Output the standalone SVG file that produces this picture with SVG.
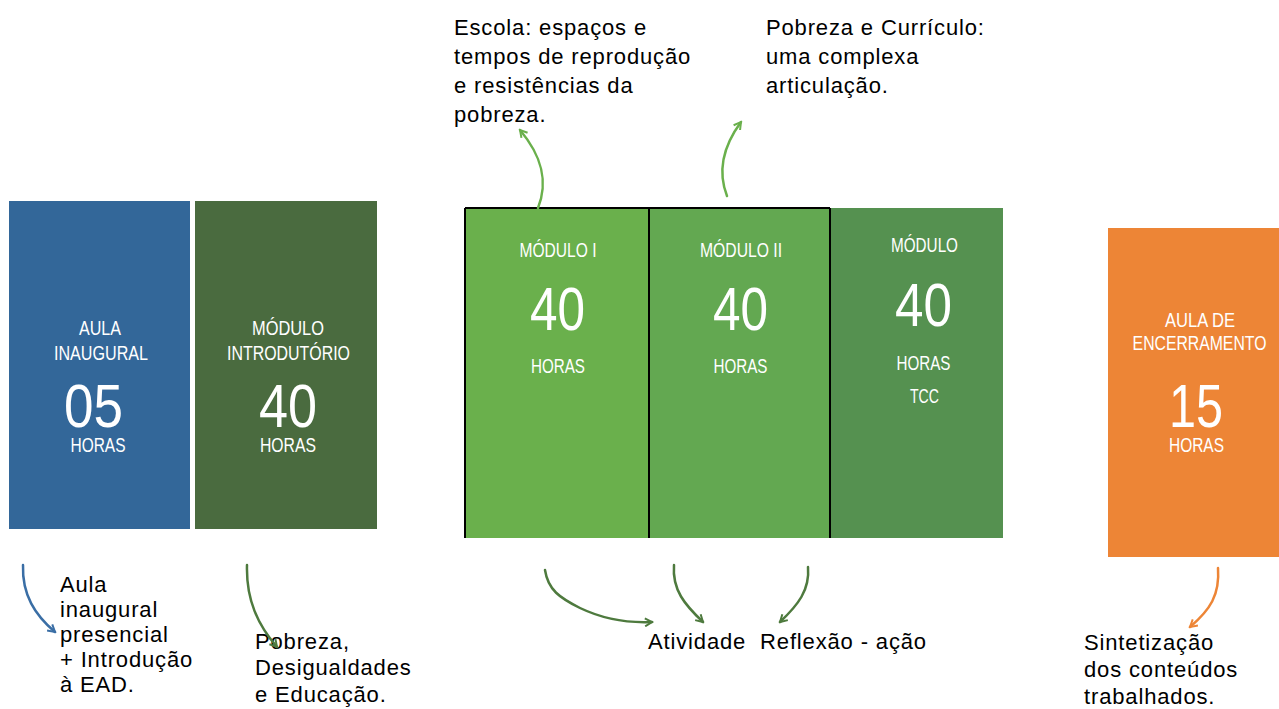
<svg xmlns="http://www.w3.org/2000/svg" width="1279" height="709" viewBox="0 0 1279 709">
<style>
.t{font-family:"Liberation Sans",Arial,sans-serif;fill:#fff;text-anchor:middle}
.s{font-size:20.5px}
.h{font-size:20px}
.n{font-size:62px}
.b{font-family:"Liberation Sans",Arial,sans-serif;fill:#000;font-size:22px;letter-spacing:0.85px}
.c{fill:none;stroke-width:2.5;stroke-linecap:round}
</style>
<defs>
<marker id="ab" markerWidth="10" markerHeight="10" refX="8" refY="5" orient="auto" markerUnits="userSpaceOnUse"><path d="M1,1 L8,5 L1,9" fill="none" stroke="#3A6EA5" stroke-width="2"/></marker>
<marker id="ag" markerWidth="10" markerHeight="10" refX="8" refY="5" orient="auto" markerUnits="userSpaceOnUse"><path d="M1,1 L8,5 L1,9" fill="none" stroke="#4E7A3E" stroke-width="2"/></marker>
<marker id="al" markerWidth="10" markerHeight="10" refX="8" refY="5" orient="auto" markerUnits="userSpaceOnUse"><path d="M1,1 L8,5 L1,9" fill="none" stroke="#6AB04C" stroke-width="2"/></marker>
<marker id="ao" markerWidth="10" markerHeight="10" refX="8" refY="5" orient="auto" markerUnits="userSpaceOnUse"><path d="M1,1 L8,5 L1,9" fill="none" stroke="#ED8536" stroke-width="2"/></marker>
</defs>
<rect width="1279" height="709" fill="#fff"/>
<g id="aula-inaugural">
<rect x="9" y="201" width="181" height="328" fill="#336799"/>
<text class="t s" x="100" y="335" textLength="42" lengthAdjust="spacingAndGlyphs">AULA</text>
<text class="t s" x="101" y="360" textLength="94" lengthAdjust="spacingAndGlyphs">INAUGURAL</text>
<text class="t n" x="93.5" y="427" textLength="59" lengthAdjust="spacingAndGlyphs">05</text>
<text class="t h" x="98" y="452" textLength="55" lengthAdjust="spacingAndGlyphs">HORAS</text>
</g>
<g id="modulo-introdutorio">
<rect x="195" y="201" width="182" height="328" fill="#4A6B3F"/>
<text class="t s" x="288" y="335" textLength="72" lengthAdjust="spacingAndGlyphs">MÓDULO</text>
<text class="t s" x="288.5" y="360" textLength="123" lengthAdjust="spacingAndGlyphs">INTRODUTÓRIO</text>
<text class="t n" x="288" y="427" textLength="58" lengthAdjust="spacingAndGlyphs">40</text>
<text class="t h" x="288" y="452" textLength="56" lengthAdjust="spacingAndGlyphs">HORAS</text>
</g>
<g id="modulo-1">
<rect x="465" y="208" width="184" height="330" fill="#6AB04C"/>
<text class="t h" x="558" y="257" textLength="77" lengthAdjust="spacingAndGlyphs">MÓDULO I</text>
<text class="t n" x="557.5" y="330" textLength="55" lengthAdjust="spacingAndGlyphs">40</text>
<text class="t h" x="558" y="373" textLength="54" lengthAdjust="spacingAndGlyphs">HORAS</text>
</g>
<g id="modulo-2">
<rect x="649" y="208" width="181" height="330" fill="#63A851"/>
<text class="t h" x="741" y="257" textLength="82" lengthAdjust="spacingAndGlyphs">MÓDULO II</text>
<text class="t n" x="740.5" y="330" textLength="55" lengthAdjust="spacingAndGlyphs">40</text>
<text class="t h" x="740.5" y="373" textLength="54" lengthAdjust="spacingAndGlyphs">HORAS</text>
</g>
<g id="modulo-3">
<rect x="830" y="208" width="173" height="330" fill="#559150"/>
<text class="t h" x="924.5" y="252" textLength="67" lengthAdjust="spacingAndGlyphs">MÓDULO</text>
<text class="t n" x="923.5" y="326" textLength="57" lengthAdjust="spacingAndGlyphs">40</text>
<text class="t h" x="923.5" y="370" textLength="54" lengthAdjust="spacingAndGlyphs">HORAS</text>
<text class="t h" x="924.5" y="403" textLength="29" lengthAdjust="spacingAndGlyphs">TCC</text>
</g>
<g id="module-borders" stroke="#000" stroke-width="2" fill="none">
<path d="M465,208 H830 M465,208 V538 M649,208 V538 M830,208 V538"/>
</g>
<g id="aula-encerramento">
<rect x="1108" y="228" width="171" height="329" fill="#ED8536"/>
<text class="t s" x="1200" y="327" textLength="70" lengthAdjust="spacingAndGlyphs">AULA DE</text>
<text class="t s" transform="translate(1199.5 350) scale(0.77 1)" x="0" y="0">ENCERRAMENTO</text>
<text class="t n" x="1196" y="427" textLength="54" lengthAdjust="spacingAndGlyphs">15</text>
<text class="t h" x="1196.5" y="452" textLength="55" lengthAdjust="spacingAndGlyphs">HORAS</text>
</g>
<g id="labels">
<text class="b"><tspan x="454" y="35">Escola: espaços e</tspan><tspan x="454" y="64">tempos de reprodução</tspan><tspan x="454" y="93">e resistências da</tspan><tspan x="454" y="122">pobreza.</tspan></text>
<text class="b"><tspan x="766" y="35">Pobreza e Currículo:</tspan><tspan x="766" y="64">uma complexa</tspan><tspan x="766" y="93">articulação.</tspan></text>
<text class="b"><tspan x="60" y="592">Aula</tspan><tspan x="60" y="617">inaugural</tspan><tspan x="60" y="642">presencial</tspan><tspan x="60" y="667">+ Introdução</tspan><tspan x="60" y="692">à EAD.</tspan></text>
<text class="b"><tspan x="255" y="649">Pobreza,</tspan><tspan x="255" y="675">Desigualdades</tspan><tspan x="255" y="702">e Educação.</tspan></text>
<text class="b" x="648" y="649" xml:space="preserve" style="white-space:pre">Atividade  Reflexão - ação</text>
<text class="b"><tspan x="1084" y="650">Sintetização</tspan><tspan x="1084" y="677">dos conteúdos</tspan><tspan x="1084" y="704">trabalhados.</tspan></text>
</g>
<g id="connectors">
<path class="c" stroke="#6AB04C" d="M538,208 C549,180 541,155 520,130" marker-end="url(#al)"/>
<path class="c" stroke="#6AB04C" d="M727,196 C717,170 724,145 741,122" marker-end="url(#al)"/>
<path class="c" stroke="#3A6EA5" d="M23,565 C22,595 35,615 55,632" marker-end="url(#ab)"/>
<path class="c" stroke="#4E7A3E" d="M247,565 C246,600 258,625 277,647" marker-end="url(#ag)"/>
<path class="c" stroke="#4E7A3E" d="M545,570 C548,590 560,598 580,608 C605,620 630,623 652,622" marker-end="url(#ag)"/>
<path class="c" stroke="#4E7A3E" d="M674,565 C672,590 685,605 703,622" marker-end="url(#ag)"/>
<path class="c" stroke="#4E7A3E" d="M808,567 C810,590 798,605 780,622" marker-end="url(#ag)"/>
<path class="c" stroke="#ED8536" d="M1218,568 C1220,595 1210,610 1190,627" marker-end="url(#ao)"/>
</g>
</svg>
